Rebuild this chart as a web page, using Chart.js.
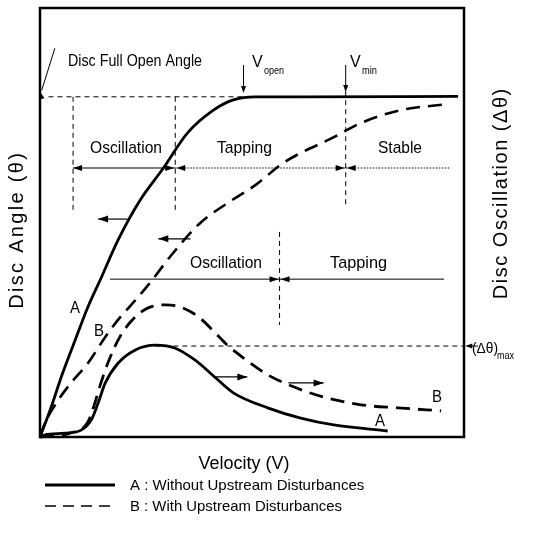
<!DOCTYPE html>
<html><head><meta charset="utf-8">
<script src="https://cdn.jsdelivr.net/npm/chart.js@4/dist/chart.umd.min.js"></script>
<style>html,body{margin:0;padding:0;background:#fff}#wrap{width:534px;height:547px;position:relative}</style>
</head><body><div id="wrap"><canvas id="c"></canvas></div>
<script>
const angleA_v = [0,2.4,5.2,8.3,11.3,14.2,18.4,23.6,29.1,34.8,40.9,45.6,50.8,61.5,98.6];
const angleA_y = [0,6.3,14.5,22.6,30.3,36.6,45.9,55.2,62.7,70.9,76.2,78.6,79.3,79.3,79.4];
const angleB_v = [0,1.2,4.3,7.3,11.3,15.4,18.4,22.5,25.5,31.4,37.8,44.2,50.8,57.4,69.3,75.7,85.1,96.2];
const angleB_y = [0,3.3,8.6,12.6,17.2,23.3,27.3,31.9,35.4,42.9,49.9,54.5,58.7,63.9,69.9,73.2,76.2,77.6];
const oscA_v = [0,1.2,5.9,9.7,12.1,13.7,15.4,18.4,22.5,27.2,31.9,36.6,41.4,45.6,53.7,61.5,69.3,82.0];
const oscA_y = [0,0.5,0.9,1.6,4.0,7.9,12.6,17.2,20.3,21.4,20.7,17.9,13.8,10.3,6.8,4.4,2.8,1.4];
const oscB_v = [0,7.1,11.3,12.8,14.2,16.1,19.1,22.5,25.5,29.6,33.1,37.4,41.4,44.2,48.0,53.7,59.8,66.9,75.7,84.4,94.6];
const oscB_y = [0,0.9,3.5,7.5,12.1,17.5,23.8,28.0,30.1,30.8,30.3,28.0,24.2,21.4,18.4,14.5,11.7,9.3,7.5,6.8,6.1];
// key levels / velocities
const fullOpenAngle = 79.3;
const dThetaMax = 21.2;
const vOscEnd = 7.8, vTapStart = 31.9, vOpen = 48.0, vMin = 72.1, vOscB = 56.5;
const legendLabels = ["A : Without Upstream Disturbances", "B : With Upstream Disturbances"];

const pts = (xs, ys) => xs.map((x, i) => ({x, y: ys[i]}));
const FONT = '"Liberation Sans", Arial, sans-serif';

function txt(ctx, s, x, y, size, w, align) {
  ctx.font = size + 'px ' + FONT;
  ctx.textAlign = align || 'left';
  ctx.textBaseline = 'alphabetic';
  ctx.letterSpacing = '0px';
  if (w) ctx.fillText(s, x, y, w); else ctx.fillText(s, x, y);
}
function spacedRot(ctx, s, cx, cy, size, len) {
  ctx.save();
  ctx.translate(cx, cy);
  ctx.rotate(-Math.PI / 2);
  ctx.font = size + 'px ' + FONT;
  ctx.letterSpacing = '0px';
  const nat = ctx.measureText(s).width;
  const ls = Math.max(0, (len - nat) / (s.length));
  ctx.letterSpacing = ls + 'px';
  ctx.textAlign = 'center';
  ctx.textBaseline = 'middle';
  ctx.fillText(s, ls / 2, 0);
  ctx.restore();
}
function head(ctx, x, y, dx, dy, L, W) {
  const len = Math.hypot(dx, dy); const ux = dx / len, uy = dy / len;
  ctx.save(); ctx.setLineDash([]);
  ctx.beginPath();
  ctx.moveTo(x, y);
  ctx.lineTo(x - ux * L - uy * W / 2, y - uy * L + ux * W / 2);
  ctx.lineTo(x - ux * L + uy * W / 2, y - uy * L - ux * W / 2);
  ctx.closePath(); ctx.fill(); ctx.restore();
}
function line(ctx, x1, y1, x2, y2, w, dash) {
  ctx.save(); ctx.lineWidth = w; ctx.setLineDash(dash || []);
  ctx.beginPath(); ctx.moveTo(x1, y1); ctx.lineTo(x2, y2); ctx.stroke(); ctx.restore();
}

const decor = {
  id: 'decor',
  afterDatasetsDraw(chart) {
    const ctx = chart.ctx, a = chart.chartArea;
    const X = v => chart.scales.x.getPixelForValue(v);
    const Y = v => chart.scales.y.getPixelForValue(v);
    ctx.save();
    ctx.strokeStyle = '#000'; ctx.fillStyle = '#000';
    // frame
    ctx.lineWidth = 2.5; ctx.setLineDash([]);
    ctx.strokeRect(a.left, a.top, a.right - a.left, a.bottom - a.top);
    // thin dashed reference lines
    const d = [5, 4];
    line(ctx, X(2), Y(fullOpenAngle), X(50.8), Y(fullOpenAngle), 1, d);
    line(ctx, X(vOscEnd), Y(fullOpenAngle), X(vOscEnd), Y(52.2), 1, d);
    line(ctx, X(vTapStart), Y(fullOpenAngle), X(vTapStart), Y(52.2), 1, d);
    line(ctx, X(vMin), Y(80.6), X(vMin), Y(54.1), 1, d);
    line(ctx, X(vOscB), Y(47.8), X(vOscB), Y(26.1), 1, d);
    line(ctx, X(27.2), Y(dThetaMax), X(100), Y(dThetaMax), 1, d);
    // region arrows row 1
    const r1 = Y(62.7);
    line(ctx, X(vOscEnd), r1, X(vTapStart), r1, 1.2);
    head(ctx, X(vOscEnd), r1, -1, 0, 9, 6); head(ctx, X(vTapStart) - 1, r1, 1, 0, 9, 6);
    line(ctx, X(vTapStart), r1, X(vMin), r1, 1.2, [1.5, 1.5]);
    head(ctx, X(vTapStart) + 1, r1, -1, 0, 9, 6); head(ctx, X(vMin) - 1, r1, 1, 0, 9, 6);
    line(ctx, X(vMin), r1, X(96.5), r1, 1.2, [1.5, 1.5]);
    head(ctx, X(vMin) + 1, r1, -1, 0, 9, 6);
    // region arrows row 2
    const r2 = Y(36.8);
    line(ctx, X(16.5), r2, X(vOscB), r2, 1);
    head(ctx, X(vOscB) - 1, r2, 1, 0, 9, 6);
    line(ctx, X(vOscB), r2, X(95.3), r2, 1);
    head(ctx, X(vOscB) + 1, r2, -1, 0, 9, 6);
    // V_open, V_min markers
    line(ctx, X(vOpen), Y(86.7), X(vOpen), Y(81.5), 1);
    head(ctx, X(vOpen), Y(80.2), 0, 1, 7, 5);
    line(ctx, X(vMin), Y(86.7), X(vMin), Y(81.5), 1);
    head(ctx, X(vMin), Y(80.4), 0, 1, 7, 5);
    // axis-pointing small arrows
    const sm = [[20.6, 13.7, 50.8], [35.5, 27.9, 46.2], [40.9, 48.9, 14.0], [58.6, 66.9, 12.6]];
    sm.forEach(([x1, x2, y]) => {
      line(ctx, X(x1), Y(y), X(x2), Y(y), 1.2);
      head(ctx, X(x2), Y(y), X(x2) - X(x1), 0, 10, 7);
    });
    // pointer to full open angle
    line(ctx, X(3.5), Y(90.6), X(0.4), Y(80.8), 1);
    head(ctx, X(0.2), Y(80.2), -3.1, -10.4 * 4.29 / 4.23, 6, 4);
    // dTheta max arrow outside
    line(ctx, X(103.3), Y(dThetaMax), X(100.8), Y(dThetaMax), 1);
    head(ctx, X(100.3), Y(dThetaMax), -1, 0, 7, 5);

    // texts inside
    txt(ctx, 'Disc Full Open Angle', 68, 66, 16, 134);
    txt(ctx, 'V', 252, 67, 16); txt(ctx, 'open', 264, 74, 10, 20);
    txt(ctx, 'V', 350, 67, 16); txt(ctx, 'min', 362, 74, 10, 15);
    txt(ctx, 'Oscillation', 90, 153, 17, 72);
    txt(ctx, 'Tapping', 217, 153, 17, 55);
    txt(ctx, 'Stable', 378, 153, 17, 44);
    txt(ctx, 'Oscillation', 190, 268, 17, 72);
    txt(ctx, 'Tapping', 330, 268, 17, 57);
    txt(ctx, 'A', 75, 313, 16, 10, 'center');
    txt(ctx, 'B', 99, 336, 16, 10, 'center');
    txt(ctx, 'A', 380, 426, 16, 10, 'center');
    txt(ctx, 'B', 437, 402, 16, 10, 'center');
    txt(ctx, '(\u0394\u03b8)', 472, 353, 15, 26);
    txt(ctx, 'max', 497, 359, 10, 17);
    // axis titles
    txt(ctx, 'Velocity (V)', 244, 469, 18, 92, 'center');
    spacedRot(ctx, 'Disc Angle (\u03b8)', 17, 231, 20, 158);
    spacedRot(ctx, 'Disc Oscillation (\u0394\u03b8)', 501, 194, 20, 212);
    // legend
    line(ctx, 45, 485, 115, 485, 3);
    line(ctx, 45, 506, 115, 506, 1.6, [11, 7]);
    txt(ctx, legendLabels[0], 130, 490, 15, 246);
    txt(ctx, legendLabels[1], 130, 511, 15, 212);
    ctx.restore();
  }
};

new Chart(document.getElementById('c'), {
  type: 'line',
  data: {
    datasets: [
      {label: 'A angle', data: pts(angleA_v, angleA_y), borderColor: '#000', borderWidth: 2.8},
      {label: 'B angle', data: pts(angleB_v, angleB_y), borderColor: '#000', borderWidth: 2.6, borderDash: [14, 8]},
      {label: 'A oscillation', data: pts(oscA_v, oscA_y), borderColor: '#000', borderWidth: 2.8},
      {label: 'B oscillation', data: pts(oscB_v, oscB_y), borderColor: '#000', borderWidth: 2.8, borderDash: [14, 8]}
    ]
  },
  options: {
    responsive: true, maintainAspectRatio: false, animation: false,
    layout: {padding: {left: 40, top: 8, right: 70, bottom: 110}},
    elements: {point: {radius: 0}, line: {cubicInterpolationMode: 'monotone', fill: false, borderCapStyle: 'butt'}},
    datasets: {line: {clip: false}},
    plugins: {legend: {display: false}, tooltip: {enabled: false}},
    scales: {
      x: {type: 'linear', min: 0, max: 100, display: false},
      y: {type: 'linear', min: 0, max: 100, display: false}
    }
  },
  plugins: [decor]
});
</script></body></html>
